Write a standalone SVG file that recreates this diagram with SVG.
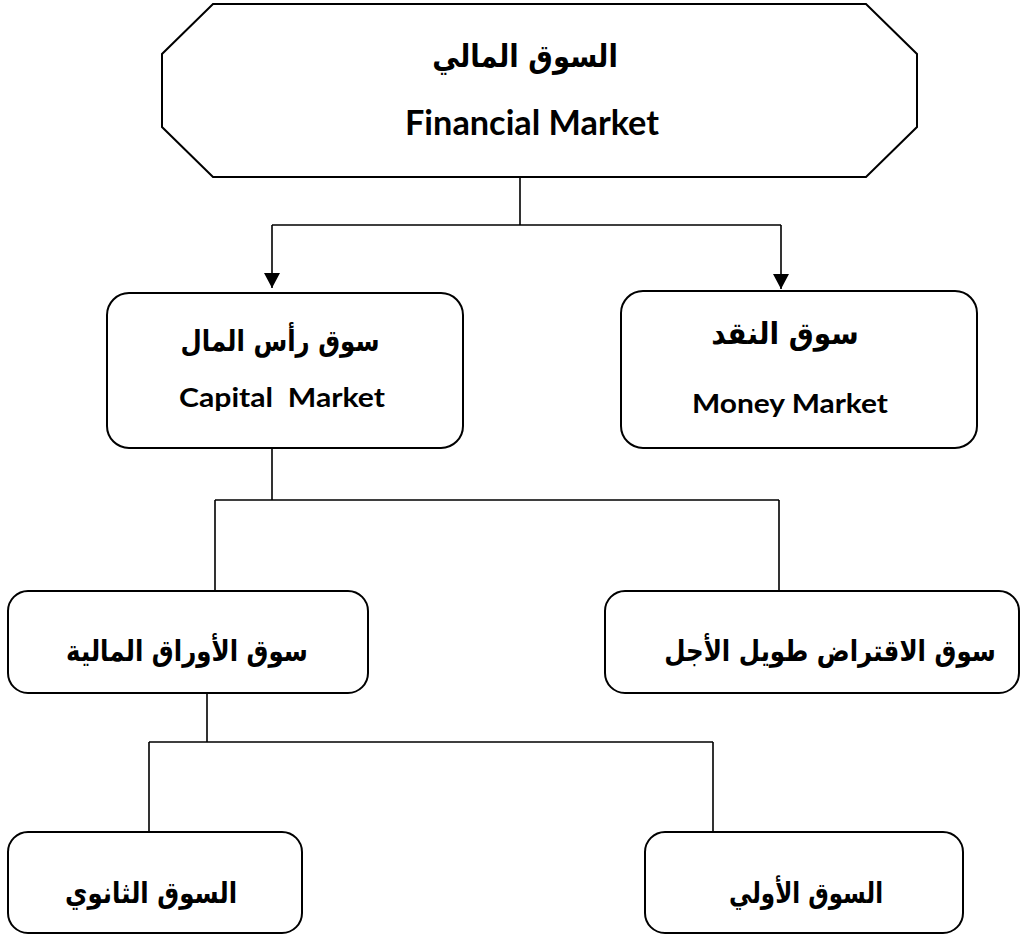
<svg xmlns="http://www.w3.org/2000/svg" width="1021" height="935" viewBox="0 0 1021 935">
  <style>
    .box { fill: #ffffff; stroke: #000000; stroke-width: 2; }
    .conn { fill: none; stroke: #000000; stroke-width: 1.6; }
    .ar { font-family: "DejaVu Sans", "Noto Sans", sans-serif; font-weight: bold; font-size: 24.5px; fill: #000000; text-anchor: middle; }
    .en { font-family: "Lato", "Open Sans", sans-serif; font-weight: bold; fill: #000000; text-anchor: middle; }
  </style>
  <defs>
    <marker id="arrow" markerUnits="userSpaceOnUse" markerWidth="16" markerHeight="16" refX="15" refY="8" orient="auto">
      <path d="M0,0 L15,8 L0,16 Z" fill="#000000"/>
    </marker>
  </defs>
  <rect width="1021" height="935" fill="#ffffff"/>

  <g id="connectors">
    <path class="conn" d="M520,177 V225 M272,225 H781"/>
    <path class="conn" d="M272,225 V288" marker-end="url(#arrow)"/>
    <path class="conn" d="M781,225 V289" marker-end="url(#arrow)"/>
    <path class="conn" d="M272,448 V500 M215,500 H779 M215,500 V591 M779,500 V591"/>
    <path class="conn" d="M207,693 V742 M149,742 H713 M149,742 V832 M713,742 V832"/>
  </g>

  <g id="financial-market">
    <polygon class="box" points="213,4 866,4 917,54 917,127 866,177 213,177 162,127 162,54"/>
    <text class="ar" transform="translate(525,67) scale(1,1.15)" x="0" y="0" style="font-size:27.5px">السوق المالي</text>
    <text class="en" x="532" y="135" style="font-size:34px" textLength="254" lengthAdjust="spacingAndGlyphs">Financial Market</text>
  </g>

  <g id="capital-market">
    <rect class="box" x="107" y="293" width="356" height="155" rx="22" ry="22"/>
    <text class="ar" transform="translate(280,351) scale(1,1.2)" x="0" y="0">سوق رأس المال</text>
    <text class="en" x="282" y="407" style="font-size:26px" textLength="206" lengthAdjust="spacingAndGlyphs" xml:space="preserve">Capital  Market</text>
  </g>

  <g id="money-market">
    <rect class="box" x="621" y="291" width="356" height="157" rx="22" ry="22"/>
    <text class="ar" transform="translate(785,344) scale(1,1.1)" x="0" y="0" style="font-size:28px">سوق النقد</text>
    <text class="en" x="790" y="413" style="font-size:26px" textLength="196" lengthAdjust="spacingAndGlyphs">Money Market</text>
  </g>

  <g id="securities-market">
    <rect class="box" x="8" y="591" width="360" height="102" rx="20" ry="20"/>
    <text class="ar" transform="translate(187,661) scale(1,1.2)" x="0" y="0">سوق الأوراق المالية</text>
  </g>

  <g id="long-term-loan-market">
    <rect class="box" x="605" y="591" width="414" height="102" rx="20" ry="20"/>
    <text class="ar" transform="translate(830,661) scale(1,1.2)" x="0" y="0">سوق الاقتراض طويل الأجل</text>
  </g>

  <g id="secondary-market">
    <rect class="box" x="8" y="832" width="294" height="101" rx="20" ry="20"/>
    <text class="ar" transform="translate(151,903) scale(1,1.2)" x="0" y="0">السوق الثانوي</text>
  </g>

  <g id="primary-market">
    <rect class="box" x="645" y="832" width="318" height="101" rx="20" ry="20"/>
    <text class="ar" transform="translate(806,903) scale(1,1.25)" x="0" y="0" style="font-size:23px">السوق الأولي</text>
  </g>
</svg>
